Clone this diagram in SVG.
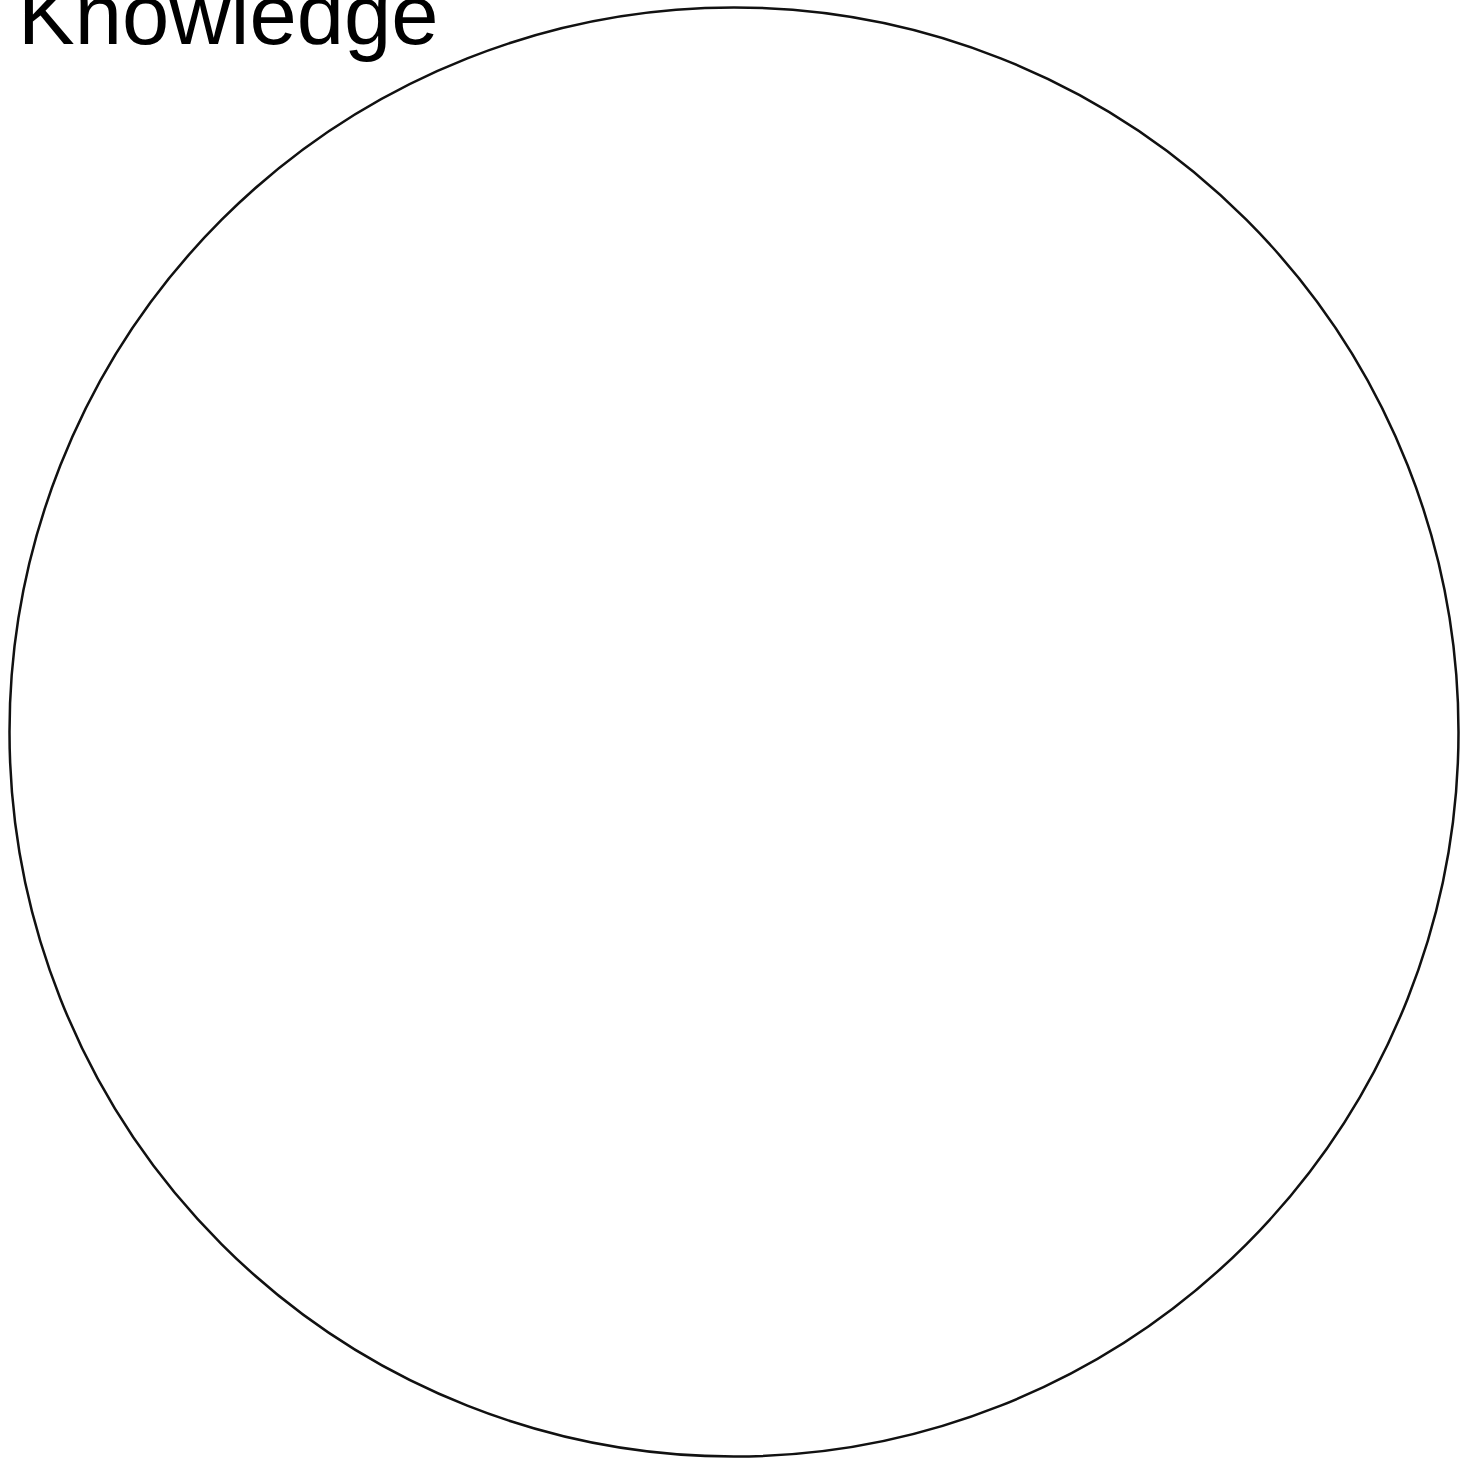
<svg xmlns="http://www.w3.org/2000/svg" width="1463" height="1459" viewBox="0 0 1463 1459">
<style>
.lbl{font-family:"Liberation Sans",Arial,sans-serif;font-size:85px;fill:#000}
.c{fill:#fff;stroke:#111;stroke-width:2.5}
</style>
<rect width="1463" height="1459" fill="#fff"/>
<g id="circle"><circle class="c" cx="734" cy="732" r="724.5"/></g>
<g id="title"><text class="lbl" x="18" y="44">Knowledge</text></g>
<g id="connectors"/>
</svg>
